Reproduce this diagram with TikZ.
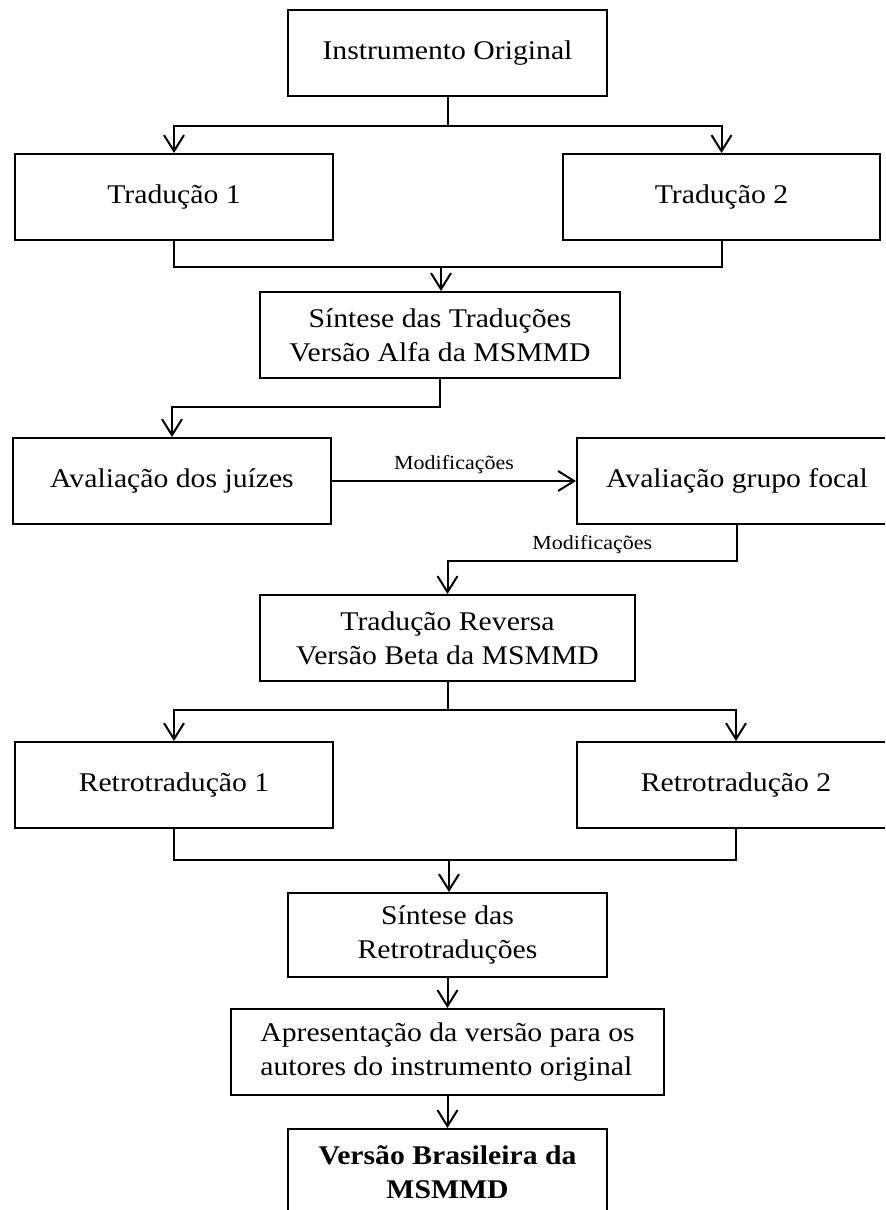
\documentclass[tikz,border=0pt]{standalone}
\usepackage{fontspec}
\setmainfont{Liberation Serif}[FakeStretch=1.1]
\usetikzlibrary{arrows.meta}

\def\px#1{#1*0.5pt}

\tikzset{
  bloco/.style={draw, line width=1pt, minimum height={\px{86}}, inner sep=2pt,
    align=center, font=\fontsize{13.5}{17}\selectfont},
  seta/.style={-{Straight Barb[length=8pt,width=10pt]}},
  rotulo/.style={font=\fontsize{10}{12}\selectfont, inner sep=1pt}
}

\begin{document}
\begin{tikzpicture}[x=0.5pt, y=-0.5pt, line width=1pt]
\useasboundingbox (0,0) rectangle (885,1210);
\clip (0,0) rectangle (885,1210);

% caixas
\node[bloco, minimum width={\px{319}}] (orig) at (447.5,53) {Instrumento Original};
\node[bloco, minimum width={\px{318}}] (trad1) at (174,197) {Tradução 1};
\node[bloco, minimum width={\px{317}}] (trad2) at (721.5,197) {Tradução 2};
\node[bloco, minimum width={\px{360}}] (sint) at (440,335) {Síntese das Traduções\\Versão Alfa da MSMMD};
\node[bloco, minimum width={\px{318}}] (juiz) at (172,481) {Avaliação dos juízes};
\node[bloco, minimum width={\px{320}}] (focal) at (737,481) {Avaliação grupo focal};
\node[bloco, minimum width={\px{375}}] (rev) at (447.5,638) {Tradução Reversa\\Versão Beta da MSMMD};
\node[bloco, minimum width={\px{318}}] (retro1) at (174,785) {Retrotradução 1};
\node[bloco, minimum width={\px{318}}] (retro2) at (736,785) {Retrotradução 2};
\node[bloco, minimum width={\px{319}}, minimum height={\px{84}}] (sretro) at (447.5,935) {Síntese das\\Retrotraduções};
\node[bloco, minimum width={\px{433}}, align=left] (apres) at (447.5,1052) {Apresentação da versão para os\\autores do instrumento original};
\node[bloco, minimum width={\px{319}}, font=\fontsize{13.5}{17}\selectfont\bfseries] (final) at (447.5,1172) {Versão Brasileira da\\MSMMD};

% ligacoes
\coordinate (j1) at (447.5,126);
\draw (orig) -- (j1);
\draw[seta] (j1) -| (trad1);
\draw[seta] (j1) -| (trad2);

\coordinate (m1) at (441,267);
\draw (trad1) |- (m1) -| (trad2);
\draw[seta] (m1) -- (m1 |- sint.north);

\coordinate (k1) at (440,407);
\draw[seta] (sint) -- (k1) -| (juiz);

\draw[seta] (juiz) -- (focal) node[rotulo, midway, above=2pt] {Modificações};

\coordinate (k2) at (447.5,561);
\draw[seta] (focal) |- (k2) node[rotulo, pos=0.75, above=2pt] {Modificações} -- (rev);

\coordinate (j2) at (447.5,710);
\draw (rev) -- (j2);
\draw[seta] (j2) -| (retro1);
\draw[seta] (j2) -| (retro2);

\coordinate (m2) at (449,860);
\draw (retro1) |- (m2) -| (retro2);
\draw[seta] (m2) -- (m2 |- sretro.north);

\draw[seta] (sretro) -- (apres);
\draw[seta] (apres) -- (final);

\end{tikzpicture}
\end{document}
